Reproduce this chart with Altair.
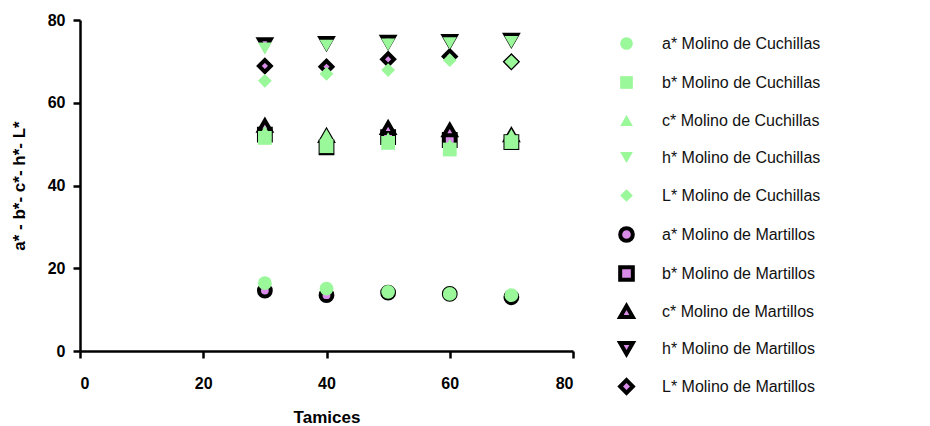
import altair as alt
import pandas as pd

# Sieve sizes (Tamices)
tamices = [30, 40, 50, 60, 70]

# Colour coordinates, knife mill (Molino de Cuchillas)
a_cuchillas = [16.4, 15.1, 14.3, 13.8, 13.5]
b_cuchillas = [51.5, 49.5, 50.3, 48.7, 50.5]
c_cuchillas = [53.0, 52.2, 51.4, 49.8, 52.2]
h_cuchillas = [73.1, 73.8, 74.1, 74.4, 74.7]
L_cuchillas = [65.3, 67.0, 67.9, 70.3, 69.9]

# Colour coordinates, hammer mill (Molino de Martillos)
a_martillos = [14.6, 13.5, 14.1, 13.8, 13.0]
b_martillos = [52.3, 49.2, 51.7, 51.0, 50.5]
c_martillos = [54.5, 52.0, 53.9, 53.4, 52.2]
h_martillos = [74.1, 74.4, 74.7, 74.9, 75.2]
L_martillos = [68.9, 68.7, 70.5, 71.2, 69.9]

params = ["a*", "b*", "c*", "h*", "L*"]
shapes = ["circle", "square", "triangle-up", "triangle-down", "diamond"]

cuch = [a_cuchillas, b_cuchillas, c_cuchillas, h_cuchillas, L_cuchillas]
mart = [a_martillos, b_martillos, c_martillos, h_martillos, L_martillos]

GREEN = "#9AF79A"
PURPLE = "#D98BE8"

series_c = [f"{p} Molino de Cuchillas" for p in params]
series_m = [f"{p} Molino de Martillos" for p in params]
domain = series_c + series_m

rows = []
# hammer-mill points first so knife-mill points are drawn over them
for k, name in enumerate(series_m):
    for x, v in zip(tamices, mart[k]):
        rows.append({"Tamices": x, "valor": v, "serie": name, "mill": "M"})
for k, name in enumerate(series_c):
    for x, v in zip(tamices, cuch[k]):
        rows.append({"Tamices": x, "valor": v, "serie": name, "mill": "C"})
df = pd.DataFrame(rows)

FONT = "Liberation Sans"

chart = alt.Chart(df).mark_point(filled=True, opacity=1, strokeWidth=4).encode(
    x=alt.X("Tamices:Q",
            scale=alt.Scale(domain=[0, 80], nice=False, zero=True),
            axis=alt.Axis(values=[0, 20, 40, 60, 80], title="Tamices",
                          labelPadding=17, titlePadding=18)),
    y=alt.Y("valor:Q",
            scale=alt.Scale(domain=[0, 80], nice=False),
            axis=alt.Axis(values=[0, 20, 40, 60, 80], title="a* - b*- c*- h*- L*",
                          labelPadding=8, titlePadding=19)),
    shape=alt.Shape("serie:N", scale=alt.Scale(domain=domain, range=shapes + shapes),
                    legend=alt.Legend(title=None)),
    fill=alt.Fill("serie:N", scale=alt.Scale(domain=domain, range=[GREEN] * 5 + [PURPLE] * 5),
                  legend=alt.Legend(title=None)),
    stroke=alt.Stroke("serie:N", scale=alt.Scale(domain=domain, range=["transparent"] * 5 + ["#000000"] * 5),
                      legend=alt.Legend(title=None)),
    size=alt.Size("mill:N", scale=alt.Scale(domain=["C", "M"], range=[190, 140]), legend=None),
).properties(
    width=493,
    height=331,
    autosize=alt.AutoSizeParams(type="none"),
    padding={"left": 80, "top": 20, "right": 357, "bottom": 75},
).configure_view(
    stroke=None
).configure_axis(
    grid=False,
    domainColor="#000000",
    domainWidth=2.5,
    tickColor="#000000",
    tickWidth=2.5,
    tickSize=7,
    labelFont=FONT,
    labelFontSize=16,
    labelFontWeight="bold",
    labelColor="#000000",
    titleFont=FONT,
    titleFontSize=17,
    titleFontWeight="bold",
    titleColor="#000000",
).configure_legend(
    orient="none",
    legendX=538,
    legendY=15,
    padding=0,
    symbolSize=160,
    symbolStrokeWidth=4,
    symbolOpacity=1,
    labelFont=FONT,
    labelFontSize=16,
    labelColor="#111111",
    labelOffset=27,
    rowPadding=10,
    labelLimit=400,
)

chart.save("out.html", embed_options={"renderer": "svg", "actions": False})
